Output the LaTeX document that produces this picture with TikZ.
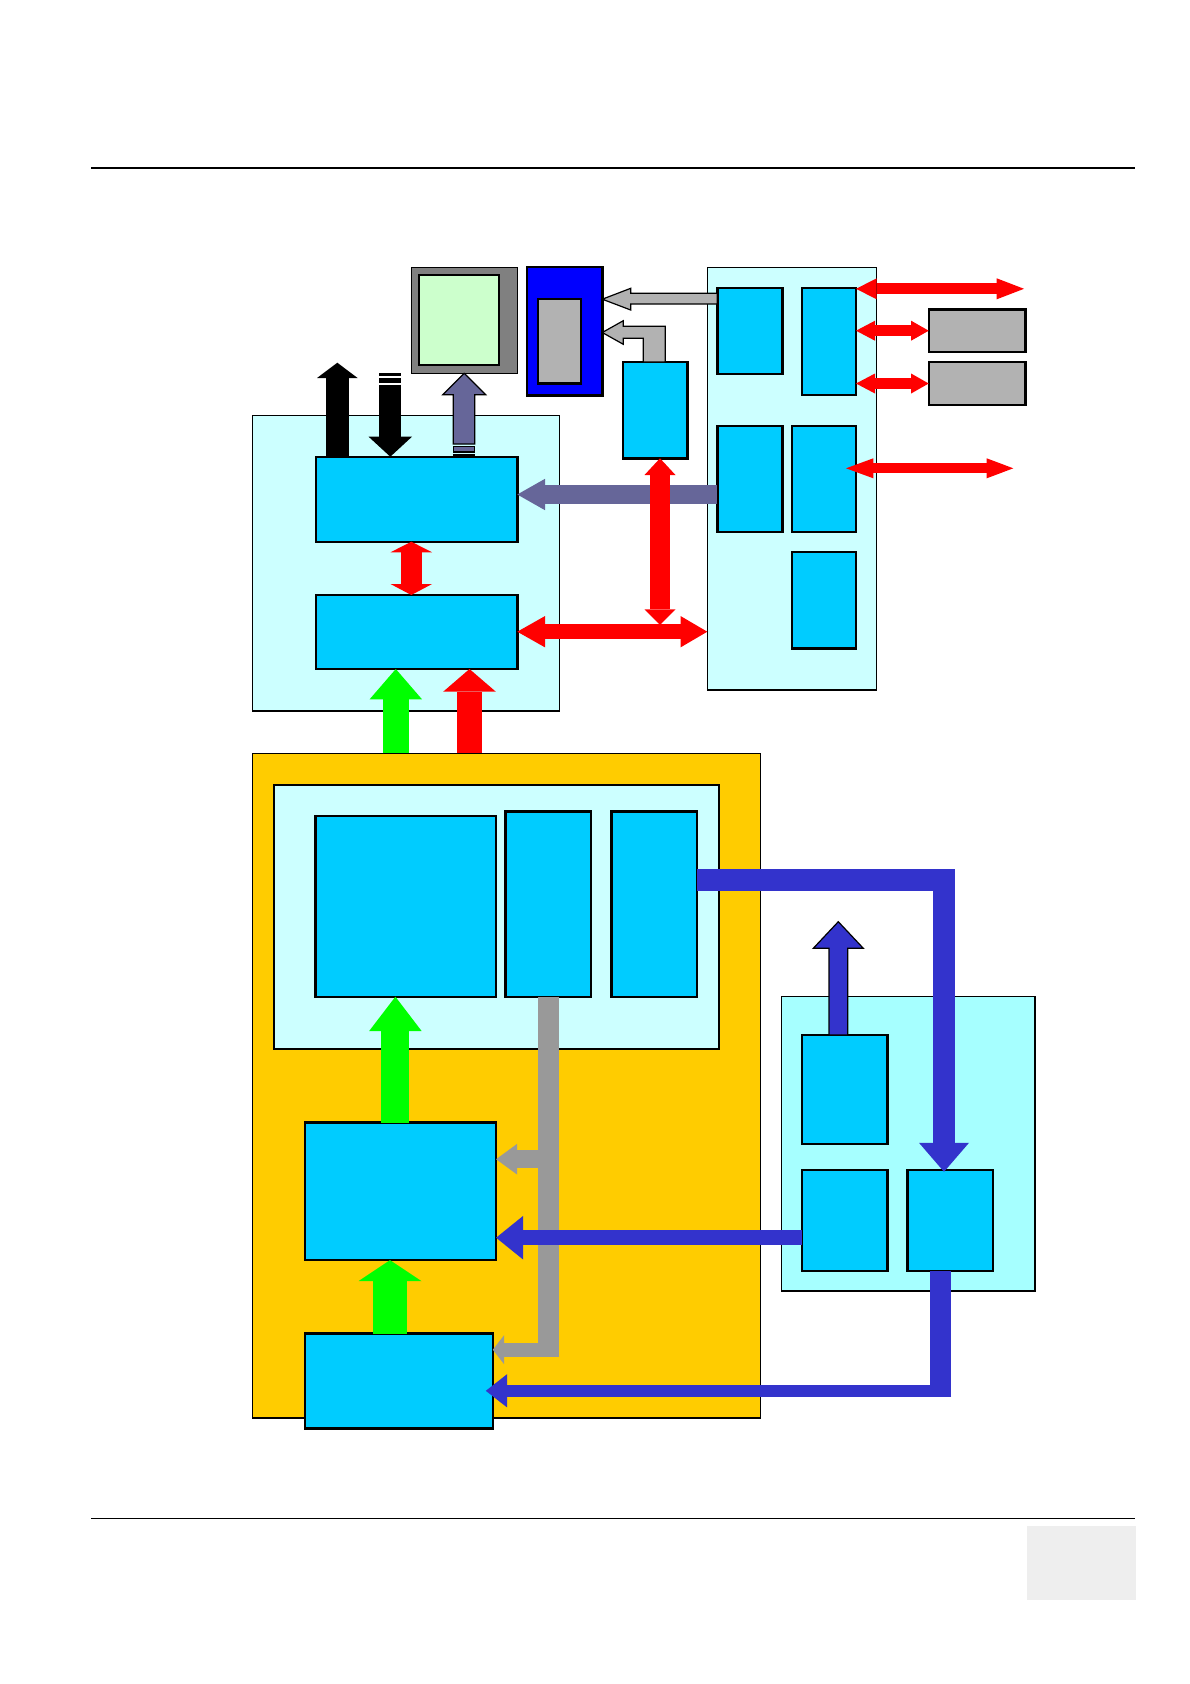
\documentclass[tikz,border=0pt]{standalone}
\usetikzlibrary{arrows.meta,fit,calc}
\definecolor{lcyan}{HTML}{CCFFFF}
\definecolor{cbox}{HTML}{00CCFF}
\definecolor{ylw}{HTML}{FFCC00}
\definecolor{aqua}{HTML}{A6FFFF}
\definecolor{pur}{HTML}{666699}
\definecolor{blu}{HTML}{3333CC}
\definecolor{gry}{HTML}{999999}
\definecolor{lgry}{HTML}{B2B2B2}
\definecolor{mgry}{HTML}{808080}
\definecolor{mon}{HTML}{CCFFCC}
\definecolor{pureblue}{HTML}{0000FF}
\definecolor{foot}{HTML}{EEEEEE}
\definecolor{rd}{HTML}{FF0000}
\definecolor{grn}{HTML}{00FF00}
\begin{document}
\begin{tikzpicture}[x=0.5bp,y=-0.5bp,
  box/.style={draw=black,line width=1.2bp,fill=cbox,inner sep=0pt,outer sep=0pt},
  cont/.style={draw=black,line width=0.6bp,fill=lcyan,inner sep=0pt,outer sep=0pt},
  graybox/.style={draw=black,line width=1.2bp,fill=lgry,inner sep=0pt,outer sep=0pt},
  flow/.style={line join=miter,line cap=butt},
  outl/.style={draw=black,line width=0.6bp,line join=miter}]
\fill[white] (0,0) rectangle (1190,1684);
\path[use as bounding box] (0,0) rectangle (1190,1684);

% header / footer
\draw[line width=0.8bp] (91,168) coordinate (H1) -- (1135,168) coordinate (H2);
\draw[line width=0.8bp] (91,1518.5) coordinate (F1) -- (1135,1518.5) coordinate (F2);
\node[fill=foot,inner sep=0pt,outer sep=0pt,fit={(1027,1526) (1136,1600)}] (FB) {};

% ---------- top left block ----------
\node[cont, fit={(252.7,415.3) (559.3,711)}] (TL) {};
\node[box, fit={(316,456.7) (517.3,541.7)}] (U) {};
\node[box, fit={(316,595) (517.3,669)}] (L) {};
\node[draw=black,line width=0.6bp,fill=mgry,inner sep=0pt,outer sep=0pt, fit={(411.7,267.3) (517.3,373.3)}] (MON) {};
\node[draw=black,line width=1bp,fill=mon,inner sep=0pt,outer sep=0pt, fit={(419.3,274.7) (499.3,365.3)}] (SCR) {};
\node[draw=black,line width=1.2bp,fill=pureblue,inner sep=0pt,outer sep=0pt, fit={(526.7,266.7) (602.3,395.3)}] (DEV) {};
\node[graybox, fit={(537.7,299) (580.7,383.3)}] (SLOT) {};

% ---------- right top block ----------
\node[cont, fit={(707.3,267.3) (876.7,690)}] (RC) {};
\node[box, fit={(717.3,287.7) (782.3,374)}] (A) {};
\node[box, fit={(801.7,287.7) (856,395)}] (B) {};
\node[box, fit={(717.3,425.7) (782.3,532)}] (C) {};
\node[box, fit={(791.7,425.7) (856,532)}] (D) {};
\node[box, fit={(791.7,551.7) (856,648.3)}] (E) {};
\node[box, fit={(622.7,362) (687.3,458.3)}] (S) {};
\node[graybox, fit={(928.7,309.3) (1025.3,352)}] (G1) {};
\node[graybox, fit={(928.7,362) (1025.3,405)}] (G2) {};

% ---------- lower block ----------
\node[draw=black,line width=0.6bp,fill=ylw,inner sep=0pt,outer sep=0pt,fit={(252.5,753.3) (760.4,1418)}] (YEL) {};
\node[draw=black,line width=0.9bp,fill=lcyan,inner sep=0pt,outer sep=0pt,fit={(273.7,784.6) (718.6,1049)}] (IC) {};
\node[box, fit={(315.5,815.9) (496.1,996.7)}] (P1) {};
\node[box, fit={(505.3,811.4) (591,996.7)}] (P2) {};
\node[box, fit={(611.4,811.4) (697.1,996.7)}] (P3) {};
\node[box, fit={(304.8,1122.6) (496.1,1260.1)}] (M) {};
\node[box, fit={(304.8,1333.5) (492.8,1428.4)}] (N) {};
\node[draw=black,line width=0.6bp,fill=aqua,inner sep=0pt,outer sep=0pt,fit={(781.5,996.5) (1035,1291)}] (RR) {};
\node[box, fit={(802.2,1035) (887.5,1144)}] (R1) {};
\node[box, fit={(802.2,1169.8) (887.5,1271)}] (R2) {};
\node[box, fit={(907.5,1169.8) (993.2,1271)}] (R3) {};

% ---------- arrows, top ----------
% black up
\draw[flow,line width=11.35bp,-{Triangle[width=20.3bp,length=7.65bp,line width=0pt]}]
  (U.north -| 337.3,0) -- (337.3,362.7) coordinate (BUt);
% black down with stripes
\fill (379.3,373.3) rectangle (401.3,376);
\fill (379.3,378) rectangle (401.3,382.7);
\draw[flow,line width=11bp,-{Triangle[width=21.7bp,length=10bp,line width=0pt]}]
  (390.3,384.7) coordinate (BDs) -- (U.north -| 390.3,0);
% purple up to monitor
\filldraw[outl,fill=pur] (453.3,444) -- (453.3,394.7) -- (442.7,394.7) -- (MON.south -| 464.2,0)
  -- (485.7,394.7) -- (474.7,394.7) -- (474.7,444) -- cycle;
\filldraw[outl,fill=pur] (453.3,446.7) rectangle (474.7,452);
\fill (453.3,454) rectangle (474.7,456.7);
% gray arrows to device
\filldraw[outl,fill=lgry] (A.west |- 0,293.3) -- (630.7,293.3) -- (630.7,288.3) -- (DEV.east |- 0,299.2)
  -- (630.7,310) -- (630.7,304) -- (A.west |- 0,304) -- cycle;
\filldraw[outl,fill=lgry] (S.north -| 643.3,0) -- (643.3,338.3) -- (623.3,338.3) -- (623.3,344.3)
  -- (DEV.east |- 0,332.5) -- (623.3,320.7) -- (623.3,326.3) -- (665.3,326.3) -- (S.north -| 665.3,0) -- cycle;
% purple horizontal
\draw[flow,pur,line width=9.5bp,-{Triangle[width=15.7bp,length=13.85bp,line width=0pt]}]
  (C.west |- 0,494.5) -- (U.east |- 0,494.5);
% red vertical and horizontal bus
\coordinate (J) at (660,625);
\draw[flow,rd,line width=10bp,{Triangle[width=15.5bp,length=8.35bp,line width=0pt]}-{Triangle[width=15.5bp,length=7.85bp,line width=0pt]}]
  (S.south -| 660,0) -- (J);
\draw[flow,rd,line width=7.5bp,{Triangle[width=15.65bp,length=13.85bp,line width=0pt]}-{Triangle[width=15.65bp,length=13.35bp,line width=0pt]}]
  (L.east |- 0,631.7) -- (RC.west |- 0,631.7);
% red small between U and L
\draw[flow,rd,line width=10.35bp,{Triangle[width=20.8bp,length=5.3bp,line width=0pt]}-{Triangle[width=20.8bp,length=5.5bp,line width=0pt]}]
  (U.south -| 411.3,0) -- (L.north -| 411.3,0);
% green and red up into L
\draw[flow,grn,line width=13.15bp,-{Triangle[width=26.2bp,length=15.15bp,line width=0pt]}]
  (YEL.north -| 395.8,0) -- (L.south -| 395.8,0);
\draw[flow,rd,line width=12.8bp,-{Triangle[width=26.35bp,length=11.35bp,line width=0pt]}]
  (YEL.north -| 469.5,0) -- (L.south -| 469.5,0);
% red arrows on the right
\draw[flow,rd,line width=5.5bp,{Triangle[width=10.5bp,length=10.35bp,line width=0pt]}-{Triangle[width=10.5bp,length=13.65bp,line width=0pt]}]
  (B.east |- 0,288.8) -- (1024,288.8) coordinate (X1);
\draw[flow,rd,line width=5.5bp,{Triangle[width=10bp,length=9.5bp,line width=0pt]}-{Triangle[width=10bp,length=8.8bp,line width=0pt]}]
  (B.east |- 0,330.7) -- (G1.west |- 0,330.7);
\draw[flow,rd,line width=5.5bp,{Triangle[width=10bp,length=9.5bp,line width=0pt]}-{Triangle[width=10bp,length=8.8bp,line width=0pt]}]
  (B.east |- 0,383.5) -- (G2.west |- 0,383.5);
\draw[flow,rd,line width=5bp,{Triangle[width=10bp,length=13.65bp,line width=0pt]}-{Triangle[width=10bp,length=13.3bp,line width=0pt]}]
  ($(D.east |- 0,468.3)-(10,0)$) -- (1013.3,468.3) coordinate (X4);

% ---------- arrows, bottom ----------
% gray bus
\draw[flow,gry,line width=10.35bp] (P2.south -| 548.7,0) -- (548.7,1356.7) coordinate (GC);
\draw[flow,gry,line width=9.15bp,-{Triangle[width=15.35bp,length=10.5bp,line width=0pt]}]
  (548.7,1159.2) coordinate (GB) -- (M.east |- 0,1159.2);
\draw[flow,gry,line width=7bp,-{Triangle[width=14.5bp,length=5.65bp,line width=0pt]}]
  (559,1349.7) -- (N.east |- 0,1349.7);
% green up arrows
\draw[flow,grn,line width=14bp,-{Triangle[width=26.3bp,length=17.2bp,line width=0pt]}]
  (M.north -| 395.4,0) -- (P1.south -| 395.4,0);
\draw[flow,grn,line width=17.3bp,-{Triangle[width=31.5bp,length=10.5bp,line width=0pt]}]
  (N.north -| 390,0) -- (M.south -| 390,0);
% blue P3 -> R3
\draw[flow,blu,line width=10.75bp,-{Triangle[width=25bp,length=14.5bp,line width=0pt]}]
  (P3.east |- 0,880) -- (944,880) -- ($(R3.north -| 944,0)+(0,2)$);
% blue up from R1
\filldraw[outl,fill=blu] (R1.north -| 829,0) -- (829,948.3) -- (813.3,948.3) -- (838.3,921.7) coordinate (BUp)
  -- (863.3,948.3) -- (847.7,948.3) -- (R1.north -| 847.7,0) -- cycle;
% blue R2 -> M
\draw[flow,blu,line width=7.5bp,-{Triangle[width=21.8bp,length=13.5bp,line width=0pt]}]
  (R2.west |- 0,1237.7) -- (M.east |- 0,1237.7);
% blue R3 -> N
\draw[flow,blu,line width=10.5bp] (R3.south -| 940.5,0) -- (940.5,1396.7) coordinate (K);
\draw[flow,blu,line width=5.85bp,-{Triangle[width=16.65bp,length=10.65bp,line width=0pt]}]
  (951,1390.8) -- ($(N.east |- 0,1390.8)-(7,0)$);
\end{tikzpicture}
\end{document}
